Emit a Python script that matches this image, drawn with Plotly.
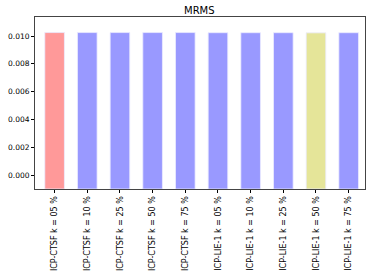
import plotly.graph_objects as go

categories = ["ICP-CTSF k = 05 %", "ICP-CTSF k = 10 %", "ICP-CTSF k = 25 %",
              "ICP-CTSF k = 50 %", "ICP-CTSF k = 75 %", "ICP-LIE-1 k = 05 %",
              "ICP-LIE-1 k = 10 %", "ICP-LIE-1 k = 25 %", "ICP-LIE-1 k = 50 %",
              "ICP-LIE-1 k = 75 %"]
values = [0.01025, 0.01025, 0.01025, 0.01025, 0.01025, 0.01024, 0.01024, 0.01024, 0.01023, 0.01024]
colors = ["#FF9999", "#9999FF", "#9999FF", "#9999FF", "#9999FF", "#9999FF",
          "#9999FF", "#9999FF", "#E5E599", "#9999FF"]
y_ticks = [0.000, 0.002, 0.004, 0.006, 0.008, 0.010]
y_min, y_max = -0.001, 0.01137

x_idx = list(range(len(categories)))
fig = go.Figure(go.Bar(
    x=x_idx, y=[v - y_min for v in values], base=y_min,
    width=0.6, marker=dict(color=colors, line=dict(color="rgba(235,235,255,0.8)", width=1)),
))
fig.update_layout(
    width=374, height=279, margin=dict(l=35, r=9, t=17, b=90),
    paper_bgcolor="white", plot_bgcolor="white", showlegend=False,
    title=dict(text="MRMS", x=0.533, xanchor="center", y=0.963, yanchor="middle",
               font=dict(family="DejaVu Sans", size=10, color="black")),
    font=dict(family="DejaVu Sans", size=8, color="black"),
)
fig.update_xaxes(range=[-0.6, 9.5], tickvals=x_idx, ticktext=categories, tickangle=-90,
                 ticks="outside", ticklen=3, tickcolor="black", showgrid=False,
                 showline=True, linecolor="#444", linewidth=1, mirror=True,
                 automargin=False, tickfont=dict(size=8))
fig.update_yaxes(range=[y_min, y_max], tickvals=y_ticks, ticktext=[f"{t:.3f}" for t in y_ticks],
                 ticks="outside", ticklen=3, tickcolor="black", showgrid=False, zeroline=False,
                 showline=True, linecolor="#444", linewidth=1, mirror=True,
                 automargin=False, tickfont=dict(size=7.5))
fig.write_html("out.html", config={"displayModeBar": False},
               post_script="document.body.style.margin='0';")
